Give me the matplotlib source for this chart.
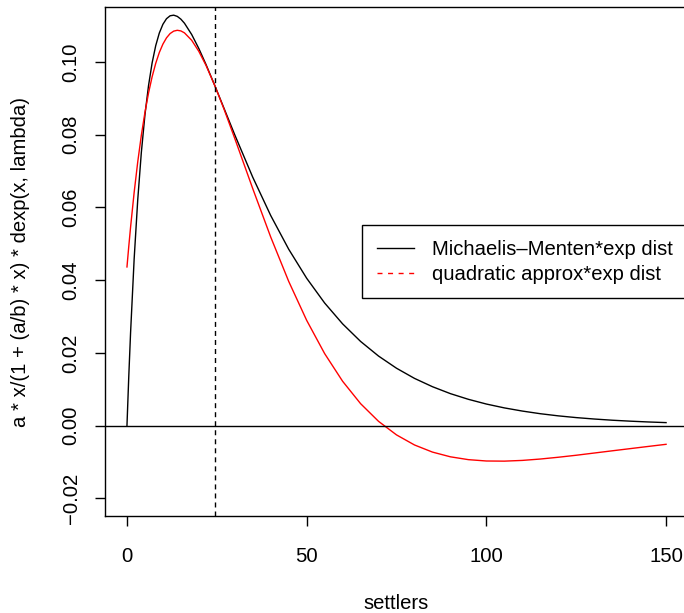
# Modules to be imported
import matplotlib.pyplot as plt
from matplotlib.lines import Line2D

# Program description
# Michaelis-Menten recruitment times an exponential settler distribution,
# compared with the quadratic approximation of the same product

plt.rcParams['font.family'] = ['Liberation Sans', 'DejaVu Sans']

# Data
settlers = [0, 0.5, 1, 2, 3, 4, 5, 6, 7, 8, 9, 10, 11, 12, 13, 14, 15, 16, 18, 20, 22, 24.5,
            27, 30, 35, 40, 45, 50, 55, 60, 65, 70, 75, 80, 85, 90, 95, 100,
            105, 110, 115, 120, 125, 130, 135, 140, 145, 150]

mm_exp = [0.0, 0.01344, 0.02546, 0.04585, 0.06215, 0.07515, 0.08545, 0.09353, 0.09978,
          0.10452, 0.10799, 0.11039, 0.11193, 0.11273, 0.11290, 0.11257, 0.11180, 0.11068,
          0.10759, 0.10371, 0.09931, 0.09338, 0.08728, 0.07996, 0.06831, 0.05777, 0.04851,
          0.04052, 0.03371, 0.02797, 0.02314, 0.01911, 0.01576, 0.01297, 0.01068,
          0.00877, 0.00721, 0.00591, 0.00485, 0.00398, 0.00325, 0.00266, 0.00218,
          0.00179, 0.00146, 0.00120, 0.00098, 0.00080]

quad_exp = [0.04363, 0.04926, 0.05455, 0.06415, 0.07256, 0.07986, 0.08614, 0.09148,
            0.09596, 0.09965, 0.10263, 0.10494, 0.10666, 0.10784, 0.10851, 0.10874, 0.10857,
            0.10803, 0.10600, 0.10294, 0.09907, 0.09338, 0.08706, 0.07897, 0.06517, 0.05185,
            0.03966, 0.02894, 0.01979, 0.01218, 0.00602, 0.00115, -0.00258, -0.00535,
            -0.00731, -0.00861, -0.00939, -0.00976, -0.00980, -0.00960, -0.00922,
            -0.00873, -0.00818, -0.00757, -0.00696, -0.00636, -0.00576, -0.00517]

mean_settlers = 24.5

x_ticks = [0, 50, 100, 150]
y_ticks = [-0.02, 0.00, 0.02, 0.04, 0.06, 0.08, 0.10]
y_tick_labels = ['\u22120.02', '0.00', '0.02', '0.04', '0.06', '0.08', '0.10']

legend_labels = ['Michaelis\u2013Menten*exp dist', 'quadratic approx*exp dist']

font_size = 14.6

# Figure and axes (right edge of the box runs off the picture, as in the reference)
fig = plt.figure(figsize=(6.84, 6.13), dpi=100)
ax = fig.add_axes([0.1541, 0.1582, 0.8512, 0.8298])

dash = (0, (3.6, 2.9))

ax.plot(settlers, mm_exp, color='black', lw=1)
ax.plot(settlers, quad_exp, color='red', lw=1)
ax.axhline(0, color='black', lw=1)
ax.axvline(mean_settlers, color='black', lw=1, linestyle=dash)

ax.set_xlim(-6, 156)
ax.set_ylim(-0.0249, 0.11505)
ax.set_xticks(x_ticks)
ax.set_yticks(y_ticks)
ax.set_yticklabels(y_tick_labels)

ax.tick_params(direction='out', length=7.5, width=1, labelsize=font_size, color='black')
ax.tick_params(axis='x', pad=14.5)
ax.tick_params(axis='y', pad=10.4, labelrotation=90)
for lab in ax.get_yticklabels():
    lab.set_va('center')

for spine in ax.spines.values():
    spine.set_linewidth(1)
    spine.set_color('black')

ax.set_xlabel('settlers', fontsize=font_size)
ax.set_ylabel('a * x/(1 + (a/b) * x) * dexp(x, lambda)', fontsize=font_size)
ax.xaxis.set_label_coords(0.5, -0.1524)
ax.yaxis.set_label_coords(-0.1288, 0.5)

# Legend (red entry is dashed in the reference)
handles = [Line2D([], [], color='black', lw=1),
           Line2D([], [], color='red', lw=1, linestyle=(0, (3.6, 4.0)))]
leg = ax.legend(handles, legend_labels, loc='center right', bbox_to_anchor=(1, 0.5),
                borderaxespad=0, fontsize=font_size, fancybox=False, framealpha=1,
                edgecolor='black', borderpad=0.71, labelspacing=0.3,
                handlelength=1.85, handletextpad=0.9)
leg.get_frame().set_linewidth(1)

fig.savefig('out.png', dpi=100)
